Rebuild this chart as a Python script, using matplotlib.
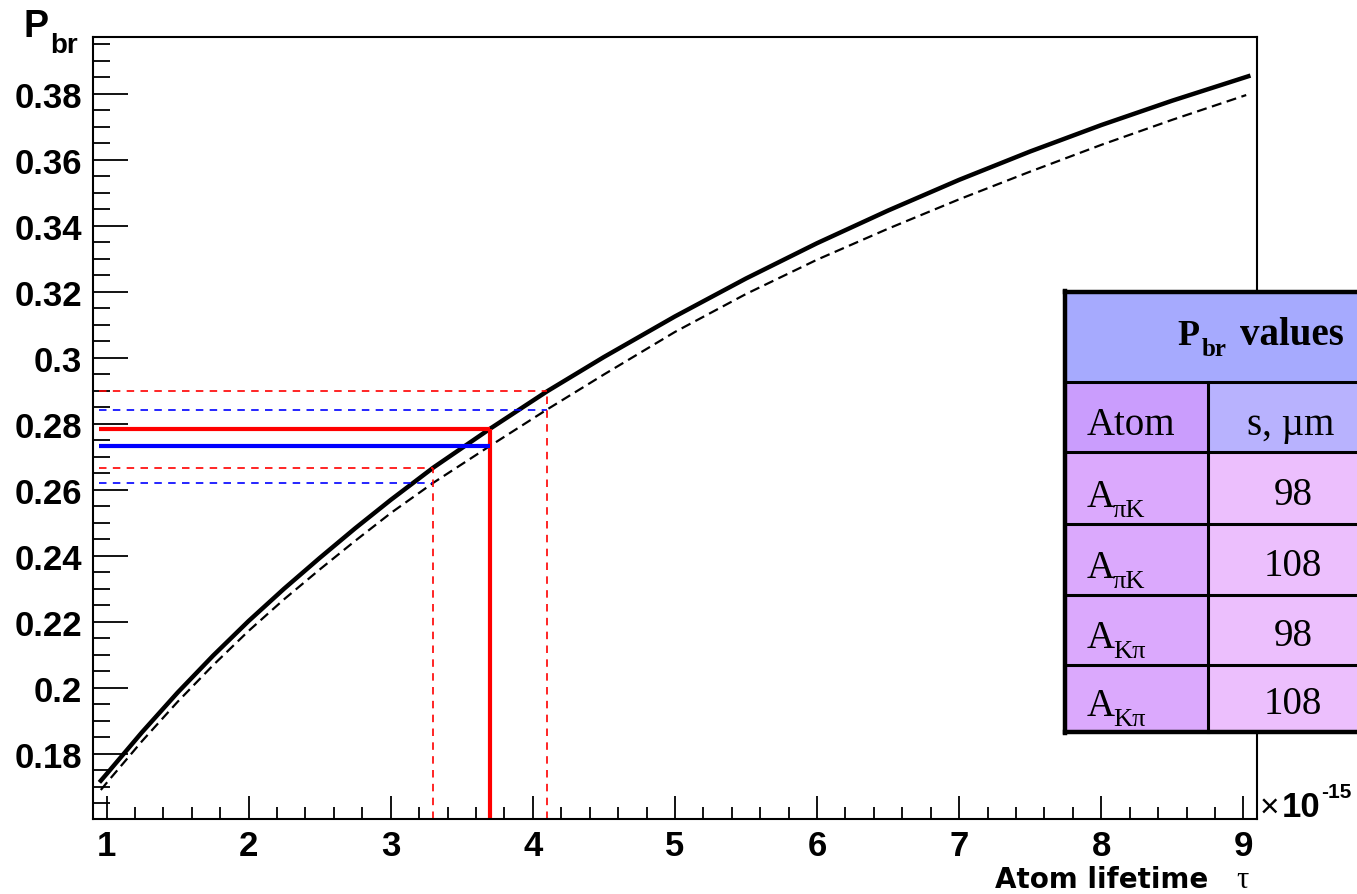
import matplotlib.pyplot as plt
from matplotlib.patches import Rectangle
from matplotlib.lines import Line2D
from matplotlib.ticker import MultipleLocator, FuncFormatter

# breakup probability vs. atom lifetime (tau in units of 1e-15 s)
tau_solid = [0.95, 1.0, 1.25, 1.5, 1.75, 2.0, 2.25, 2.5, 2.75, 3.0, 3.3, 3.7,
             4.1, 4.5, 5.0, 5.5, 6.0, 6.5, 7.0, 7.5, 8.0, 8.5, 9.05]
pbr_solid = [0.1713, 0.1738, 0.1865, 0.1985, 0.2097, 0.2202, 0.2300, 0.2393,
             0.2483, 0.2569, 0.2667, 0.2785, 0.2898, 0.3002, 0.3125, 0.3240,
             0.3347, 0.3446, 0.3539, 0.3625, 0.3705, 0.3779, 0.3855]

tau_dash = [0.96, 1.0, 1.25, 1.5, 1.75, 2.0, 2.25, 2.5, 2.75, 3.0, 3.3, 3.7,
            4.1, 4.5, 5.0, 5.5, 6.0, 6.5, 7.0, 7.5, 8.0, 8.5, 9.02]
pbr_dash = [0.1690, 0.1711, 0.1838, 0.1957, 0.2068, 0.2172, 0.2268, 0.2358,
            0.2445, 0.2529, 0.2621, 0.2733, 0.2843, 0.2949, 0.3078, 0.3193,
            0.3297, 0.3391, 0.3480, 0.3564, 0.3645, 0.3721, 0.3796]

# lifetime: central value and error band
tau_mid, tau_lo, tau_hi = 3.7, 3.3, 4.1
# read-off P_br on solid (red) and dashed (blue) curves
red_mid, red_lo, red_hi = 0.2785, 0.2667, 0.2898
blue_mid, blue_lo, blue_hi = 0.2733, 0.2621, 0.2843

# table contents
atom_sub = ['πK', 'πK', 'Kπ', 'Kπ']
s_values = ['98', '108', '98', '108']

W, H = 1357, 895
fig = plt.figure(figsize=(W / 100, H / 100), dpi=100)
ax = fig.add_axes([93 / W, 1 - 820 / H, (1257 - 93) / W, (820 - 38.3) / H])

ax.plot(tau_solid, pbr_solid, color='black', lw=3.2, solid_capstyle='butt',
        solid_joinstyle='round')
ax.plot(tau_dash, pbr_dash, color='black', lw=1.6, linestyle=(0, (4.5, 2.5)))

x0 = tau_solid[0]
ylo = 0.1602
dash = (0, (4.5, 3.8))
# solid read-off lines
ax.hlines(red_mid, x0, tau_mid, color='red', lw=3.0)
ax.vlines(tau_mid, ylo, red_mid, color='red', lw=3.0)
ax.hlines(blue_mid, x0, tau_mid, color='blue', lw=3.0)
# error band lines
ax.hlines([red_hi], x0, tau_hi, color='red', lw=1.2, linestyle=dash)
ax.hlines([red_lo], x0, tau_lo, color='red', lw=1.2, linestyle=dash)
ax.hlines([blue_hi], x0, tau_hi, color='blue', lw=1.2, linestyle=dash)
ax.hlines([blue_lo], x0, tau_lo, color='blue', lw=1.2, linestyle=dash)
ax.vlines(tau_hi, ylo, red_hi, color='red', lw=1.2, linestyle=dash)
ax.vlines(tau_lo, ylo, red_lo, color='red', lw=1.2, linestyle=dash)

ax.set_xlim(0.905, 9.096)
ax.set_ylim(ylo, 0.3971)

ax.xaxis.set_major_locator(MultipleLocator(1))
ax.xaxis.set_minor_locator(MultipleLocator(0.2))
ax.yaxis.set_major_locator(MultipleLocator(0.02))
ax.yaxis.set_minor_locator(MultipleLocator(0.005))
ax.yaxis.set_major_formatter(FuncFormatter(lambda v, p: f'{v:g}'))
ax.xaxis.set_major_formatter(FuncFormatter(lambda v, p: f'{v:g}'))

ax.tick_params(axis='both', which='both', direction='in', top=False, right=False,
               width=1.3, colors='black')
ax.tick_params(axis='y', which='major', length=25, pad=8)
ax.tick_params(axis='y', which='minor', length=12.5)
ax.tick_params(axis='x', which='major', length=16.5, pad=7)
ax.tick_params(axis='x', which='minor', length=8.5)
for lab in ax.get_xticklabels() + ax.get_yticklabels():
    lab.set_fontfamily('Liberation Sans')
    lab.set_fontweight('bold')
    lab.set_fontsize(25)
for sp in ax.spines.values():
    sp.set_linewidth(1.5)


def fx(px):
    return px / W


def fy(py):
    return 1 - py / H


# axis titles
fig.text(fx(23), fy(37), 'P', fontsize=27, fontweight='bold',
         family='Liberation Sans', va='baseline')
fig.text(fx(50), fy(53), 'br', fontsize=20, fontweight='bold',
         family='Liberation Sans', va='baseline')
fig.text(fx(1208), fy(888), 'Atom lifetime', fontsize=20, fontweight='bold',
         family='DejaVu Sans', va='baseline', ha='right')
fig.text(fx(1236), fy(888), 'τ', fontsize=22, family='Liberation Serif',
         va='baseline')
fig.text(fx(1260), fy(817), '×', fontsize=24, family='Liberation Sans',
         va='baseline')
fig.text(fx(1282), fy(817), '10', fontsize=25, fontweight='bold',
         family='Liberation Sans', va='baseline')
fig.text(fx(1321), fy(798), '-15', fontsize=15, fontweight='bold',
         family='Liberation Sans', va='baseline')

# table box
tl, tdiv, tr = 1065, 1208, 1400
ttop, thead = 293, 383
row_edges = [383, 453, 525, 596, 666, 733]


def cell(x1, y1, x2, y2, color):
    fig.add_artist(Rectangle((fx(x1), fy(y2)), (x2 - x1) / W, (y2 - y1) / H,
                             transform=fig.transFigure, facecolor=color,
                             edgecolor='none', zorder=5))


def fline(xs, ys, lw):
    fig.add_artist(Line2D([fx(v) for v in xs], [fy(v) for v in ys],
                          transform=fig.transFigure, color='black', lw=lw,
                          zorder=6))


cell(tl, ttop, tr, thead, '#a6aafe')
cell(tl, row_edges[0], tdiv, row_edges[1], '#ca9dfd')
cell(tdiv, row_edges[0], tr, row_edges[1], '#b8b2fe')
for i in range(1, 5):
    cell(tl, row_edges[i], tdiv, row_edges[i + 1], '#dba9fd')
    cell(tdiv, row_edges[i], tr, row_edges[i + 1], '#ecbffd')

for y in row_edges[:-1]:
    fline([tl, tr], [y, y], 2.2)
fline([tdiv, tdiv], [thead, row_edges[-1]], 2.2)
fline([tl, tr], [ttop, ttop], 3.2)
fline([tl, tr], [row_edges[-1], row_edges[-1]], 3.2)
fline([tl, tl], [ttop - 1, row_edges[-1] + 1], 3.2)

serif = 'Liberation Serif'
fig.text(fx(1177), fy(345), 'P', fontsize=26, fontweight='bold', family=serif,
         va='baseline', zorder=7)
fig.text(fx(1202), fy(356), 'br', fontsize=18, fontweight='bold', family=serif,
         va='baseline', zorder=7)
fig.text(fx(1240), fy(345), 'values', fontsize=28, fontweight='bold',
         family=serif, va='baseline', zorder=7)
fig.text(fx(1087), fy(435), 'Atom', fontsize=28, family=serif, va='baseline',
         zorder=7)
fig.text(fx(1291), fy(435), 's, µm', fontsize=28, family=serif, va='baseline',
         ha='center', zorder=7)
for i, (sub, s) in enumerate(zip(atom_sub, s_values)):
    top, bot = row_edges[i + 1], row_edges[i + 2]
    base = top + 0.75 * (bot - top)
    fig.text(fx(1087), fy(base), 'A', fontsize=28, family=serif,
             va='baseline', zorder=7)
    fig.text(fx(1113), fy(base + 10), sub, fontsize=19, family=serif,
             va='baseline', zorder=7)
    fig.text(fx(1293), fy(base - 2), s, fontsize=28, family=serif,
             va='baseline', ha='center', zorder=7)

fig.savefig('out.png', dpi=100)
